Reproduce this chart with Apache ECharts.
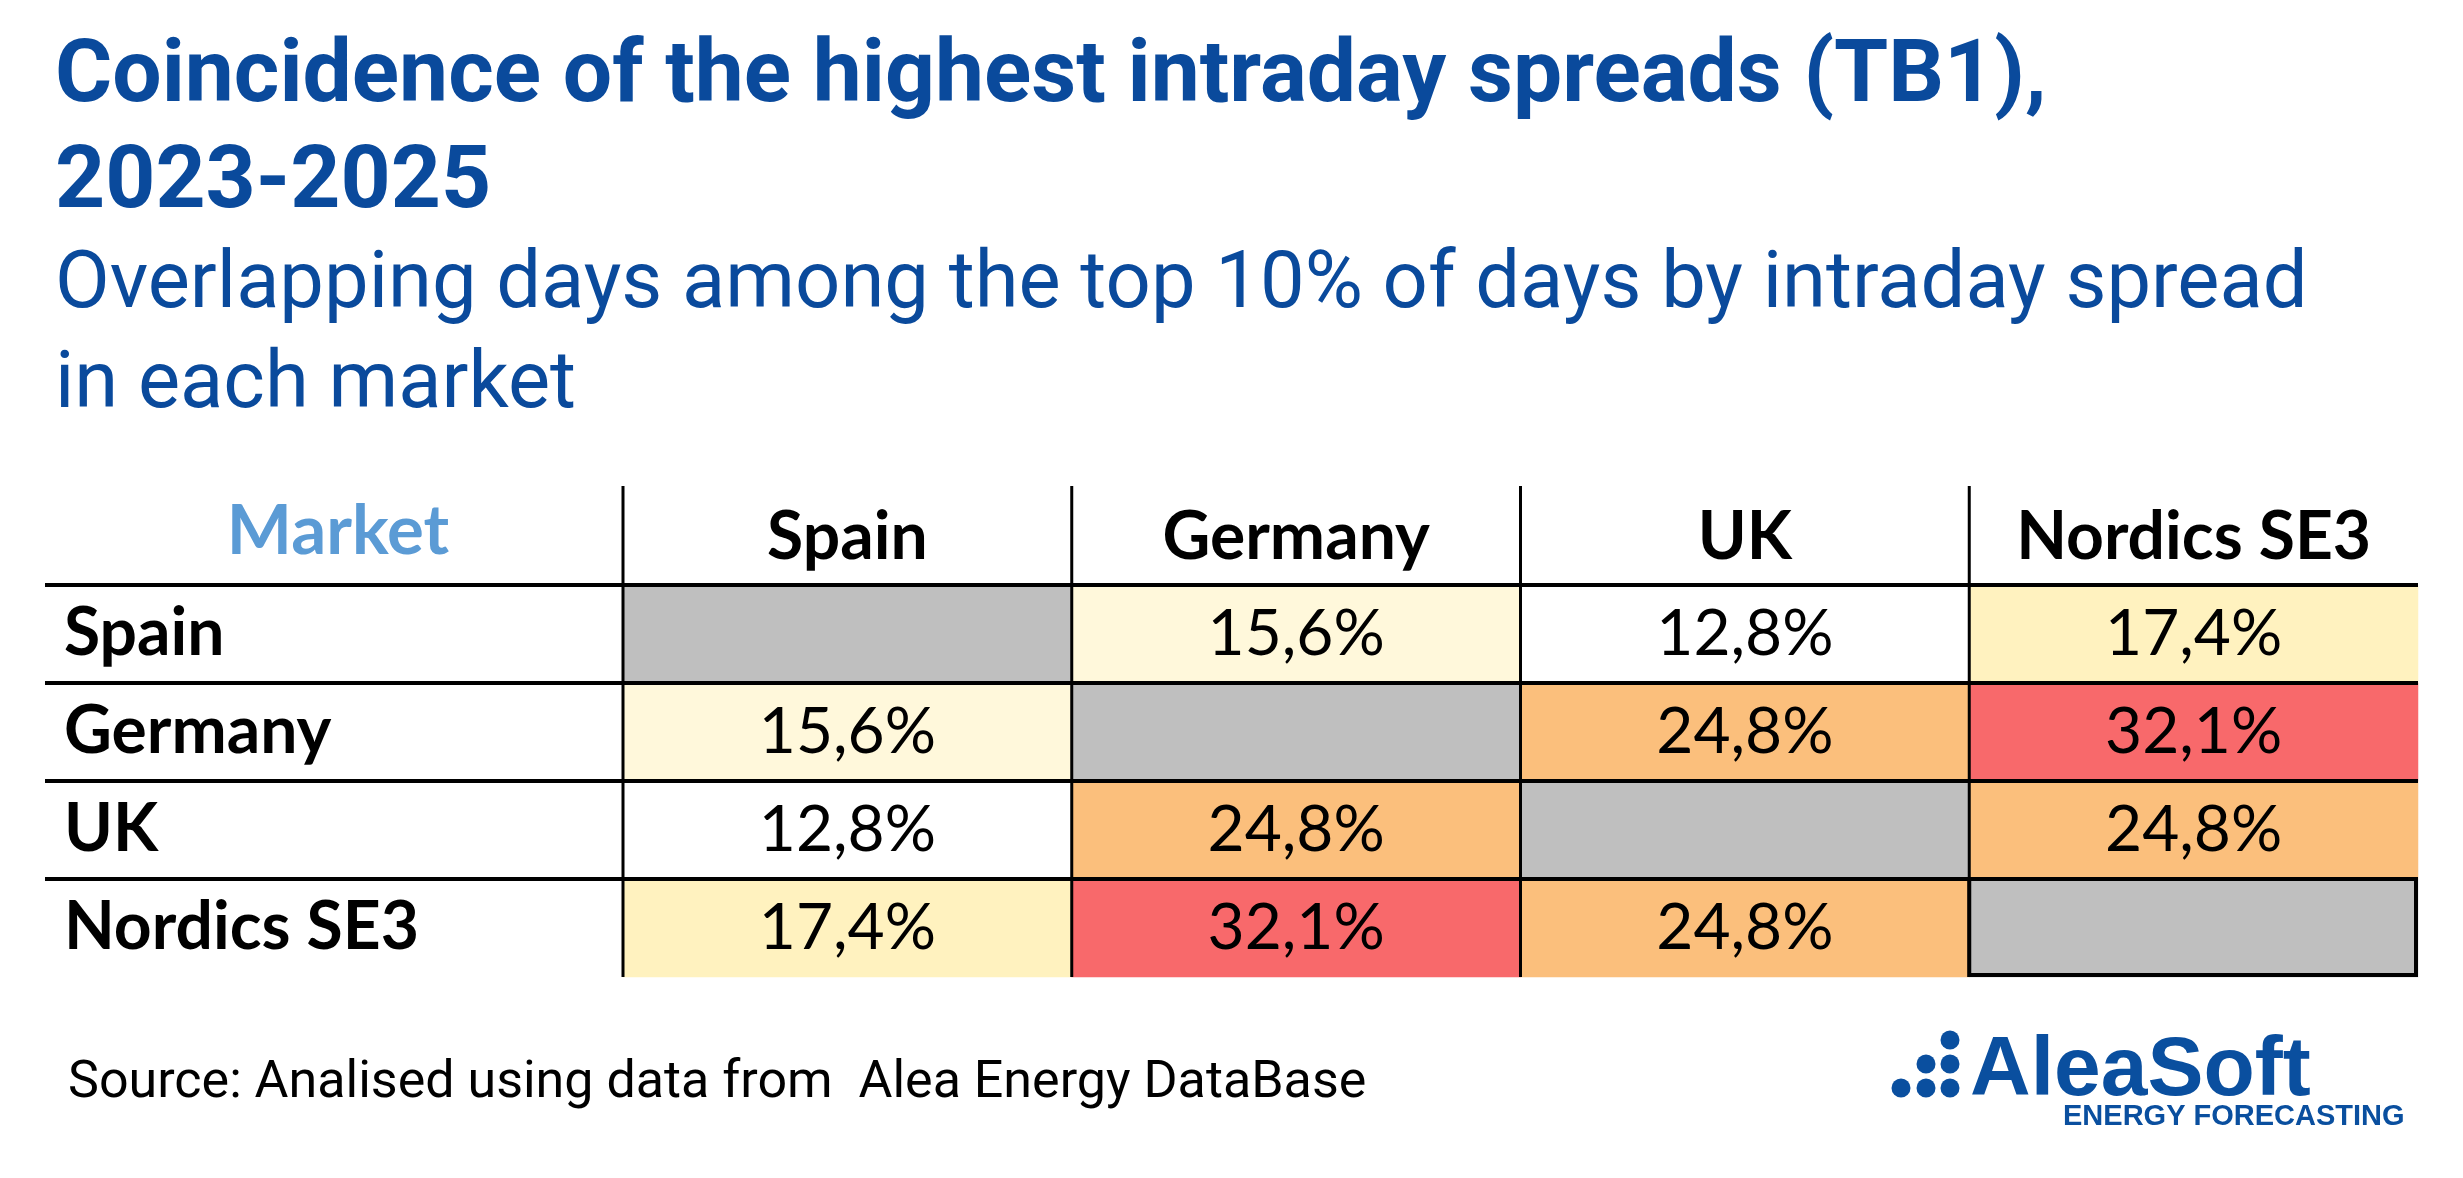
<!DOCTYPE html>
<html>
<head>
<meta charset="utf-8">
<script src="https://cdn.jsdelivr.net/npm/echarts@6/dist/echarts.min.js"></script>
<style>
  html, body {margin: 0; padding: 0; background: #fff;}
  #chart {width: 2463px; height: 1178px;}
</style>
</head>
<body>
<div id="chart"></div>
<script>
// markets, in table order (rows and columns)
const markets = ['Spain', 'Germany', 'UK', 'Nordics SE3'];
// % of overlapping days, row market vs column market (null = same market)
const spainRow = [null, 15.6, 12.8, 17.4];
const germanyRow = [15.6, null, 24.8, 32.1];
const ukRow = [12.8, 24.8, null, 24.8];
const nordicsRow = [17.4, 32.1, 24.8, null];
const overlapRows = [spainRow, germanyRow, ukRow, nordicsRow];

// table layout
const TABLE_LEFT = 45, TABLE_TOP = 486;
const GRID_LEFT = 623, GRID_TOP = 585, GRID_RIGHT = 2418, GRID_BOTTOM = 977;
const colW = (GRID_RIGHT - GRID_LEFT) / markets.length;
const rowH = (GRID_BOTTOM - GRID_TOP) / markets.length;

const cellData = [];
const diagData = [];
overlapRows.forEach((row, r) => {
  row.forEach((v, c) => {
    if (v === null) diagData.push([c, r, 0]);
    else cellData.push([c, r, v]);
  });
});

const fmt = v => v.toFixed(1).replace('.', ',') + '%';

// table rules
const lines = [];
for (let i = 0; i < markets.length; i++) {
  const y = GRID_TOP + i * rowH;
  lines.push({type: 'line', shape: {x1: TABLE_LEFT, y1: y, x2: GRID_RIGHT, y2: y},
    style: {stroke: '#000', lineWidth: 4}, z: 100});
}
for (let i = 0; i < markets.length; i++) {
  const x = GRID_LEFT + i * colW;
  lines.push({type: 'line', shape: {x1: x, y1: TABLE_TOP, x2: x, y2: GRID_BOTTOM},
    style: {stroke: '#000', lineWidth: 3}, z: 100});
}
lines.push({type: 'rect', shape: {x: GRID_LEFT + 3 * colW, y: GRID_TOP + 3 * rowH, width: colW - 2, height: rowH - 2},
  style: {fill: null, stroke: '#000', lineWidth: 4}, z: 100});

// logo
const logoBlue = '#0A4F9F';
const dots = [[1950, 1040], [1926, 1064], [1950, 1064], [1901, 1088], [1926, 1088], [1950, 1088]];
const logo = dots.map(d => ({type: 'circle', shape: {cx: d[0], cy: d[1], r: 9.5}, style: {fill: logoBlue}}));
logo.push({type: 'text', left: 1970, top: 1030, style: {text: 'AleaSoft', font: 'bold 84px "Liberation Sans", Arial, sans-serif', fill: logoBlue}});
logo.push({type: 'text', left: 2063, top: 1102, style: {text: 'ENERGY FORECASTING', font: 'bold 29px "Liberation Sans", Arial, sans-serif', fill: logoBlue}});

const chart = echarts.init(document.getElementById('chart'));
chart.setOption({
  backgroundColor: '#fff',
  animation: false,
  title: [{
    left: 55, top: 26, padding: 0,
    text: 'Coincidence of the highest intraday spreads (TB1),\n2023-2025',
    textStyle: {fontFamily: 'Roboto', fontWeight: 'bold', fontSize: 87.5, lineHeight: 106, color: '#0A4A9C'}
  }, {
    left: 55, top: 237, padding: 0,
    text: 'Overlapping days among the top 10% of days by intraday spread\nin each market',
    textStyle: {fontFamily: 'Roboto', fontWeight: 'normal', fontSize: 79.5, lineHeight: 100, color: '#0A4A9C'}
  }, {
    left: 68, top: 1054, padding: 0,
    text: 'Source: Analised using data from  Alea Energy DataBase',
    textStyle: {fontFamily: 'Roboto', fontWeight: 'normal', fontSize: 52, lineHeight: 60, color: '#000'}
  }],
  grid: {left: GRID_LEFT, top: GRID_TOP, width: GRID_RIGHT - GRID_LEFT, height: GRID_BOTTOM - GRID_TOP},
  xAxis: {
    type: 'category', data: markets, position: 'top',
    axisLine: {show: false}, axisTick: {show: false}, splitLine: {show: false},
    axisLabel: {interval: 0, fontFamily: 'Lato', fontWeight: 'bold', fontSize: 66, color: '#000', margin: 47, verticalAlign: 'middle'}
  },
  yAxis: {
    type: 'category', data: markets, inverse: true,
    axisLine: {show: false}, axisTick: {show: false}, splitLine: {show: false},
    axisLabel: {interval: 0, fontFamily: 'Lato', fontWeight: 'bold', fontSize: 66, color: '#000', align: 'left', margin: GRID_LEFT - 64}
  },
  visualMap: {
    type: 'piecewise', show: false, seriesIndex: 0, dimension: 2,
    pieces: [
      {lt: 14, color: '#FFFFFF'},
      {gte: 14, lt: 16.5, color: '#FFF8DB'},
      {gte: 16.5, lt: 20, color: '#FFF2BF'},
      {gte: 20, lt: 28, color: '#FBBF7C'},
      {gte: 28, color: '#F8696B'}
    ]
  },
  series: [{
    type: 'heatmap', data: cellData,
    itemStyle: {borderWidth: 0},
    label: {show: true, formatter: p => fmt(p.value[2]), fontFamily: 'Lato', fontSize: 64, color: '#000'},
    emphasis: {disabled: true}
  }, {
    type: 'heatmap', data: diagData,
    itemStyle: {color: '#BFBFBF', borderWidth: 0},
    label: {show: false},
    emphasis: {disabled: true}
  }],
  graphic: [
    {type: 'text', x: (TABLE_LEFT + GRID_LEFT) / 2 + 4, y: (TABLE_TOP + GRID_TOP) / 2 - 4,
      style: {text: 'Market', font: 'bold 69px Lato', fill: '#5B9BD5', align: 'center', verticalAlign: 'middle'}},
    ...lines,
    ...logo
  ]
});
</script>
</body>
</html>
